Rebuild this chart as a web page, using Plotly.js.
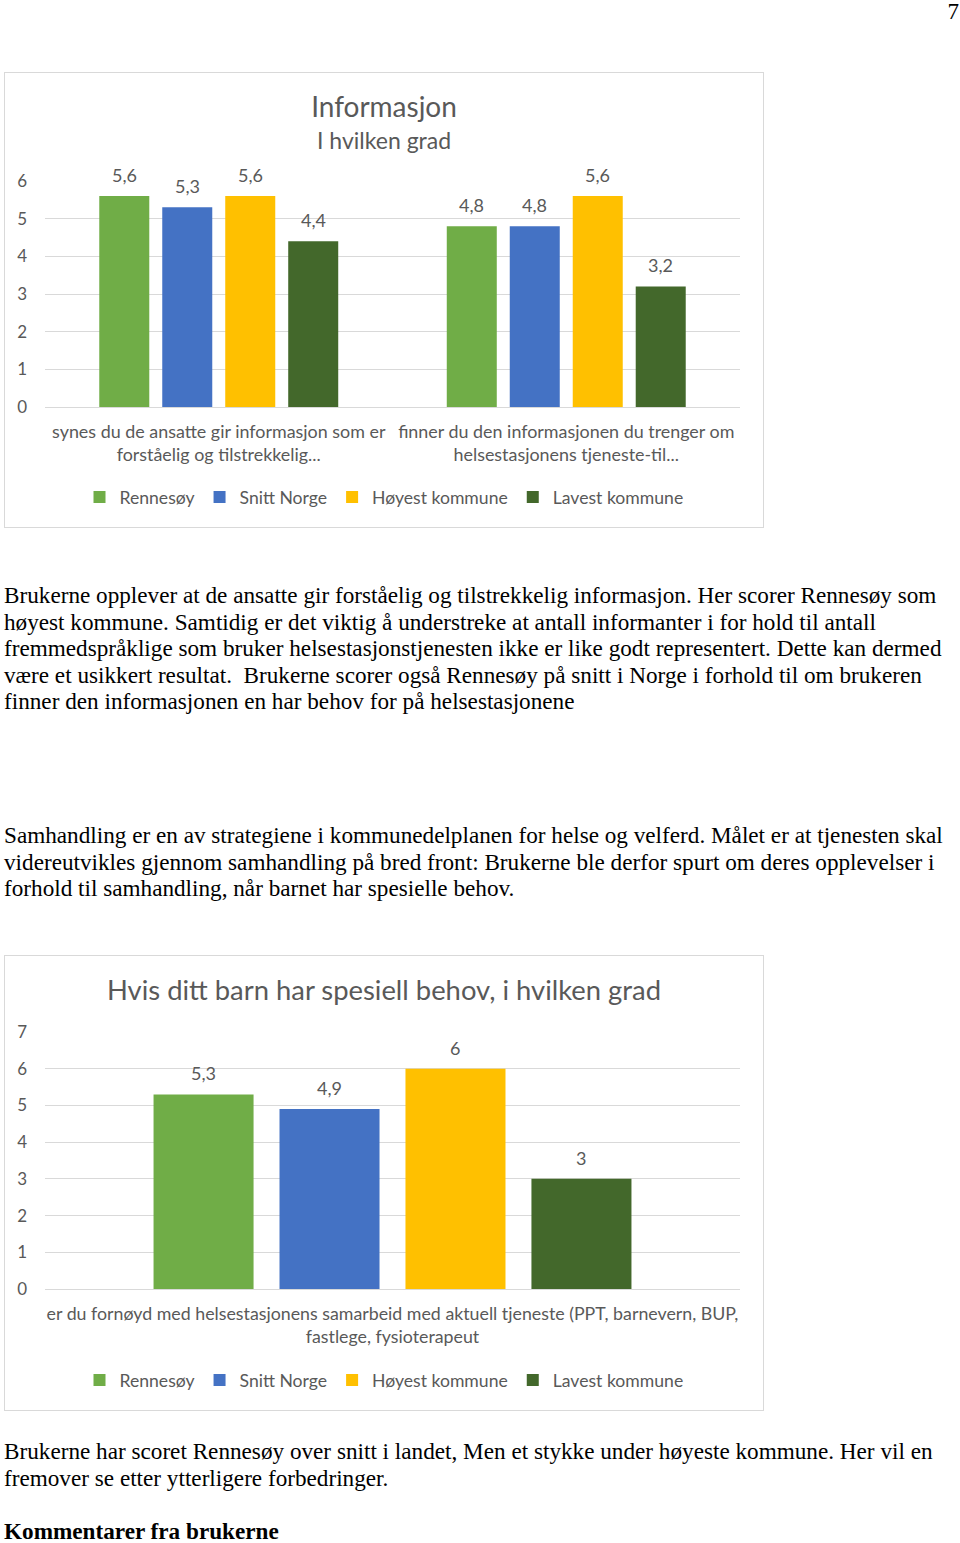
<!DOCTYPE html>
<html>
<head>
<meta charset="utf-8">
<script src="https://cdn.plot.ly/plotly-3.0.1.min.js"></script>
<style>
  html, body { margin:0; padding:0; background:#fff; }
  body { width:960px; height:1543px; position:relative; overflow:hidden; font-family:"Liberation Serif","Times New Roman",serif; color:#000; }
  .chart { position:absolute; left:4px; width:758px; height:454px; border:1px solid #d9d9d9; }
  .txt { position:absolute; left:4px; font-size:23.2px; line-height:26.6px; white-space:nowrap; }
  .pg { position:absolute; right:1px; top:-1px; font-size:23px; }
</style>
</head>
<body>
<div class="pg">7</div>
<div id="c1" class="chart" style="top:72px;"></div>
<div class="txt" style="top:582px;">
Brukerne opplever at de ansatte gir forståelig og tilstrekkelig informasjon. Her scorer Rennesøy som<br>
høyest kommune. Samtidig er det viktig å understreke at antall informanter i for hold til antall<br>
fremmedspråklige som bruker helsestasjonstjenesten ikke er like godt representert. Dette kan dermed<br>
være et usikkert resultat.&nbsp; Brukerne scorer også Rennesøy på snitt i Norge i forhold til om brukeren<br>
finner den informasjonen en har behov for på helsestasjonene
</div>
<div class="txt" style="top:822px;">
Samhandling er en av strategiene i kommunedelplanen for helse og velferd. Målet er at tjenesten skal<br>
videreutvikles gjennom samhandling på bred front: Brukerne ble derfor spurt om deres opplevelser i<br>
forhold til samhandling, når barnet har spesielle behov.
</div>
<div id="c2" class="chart" style="top:955px;"></div>
<div class="txt" style="top:1438px;">
Brukerne har scoret Rennesøy over snitt i landet, Men et stykke under høyeste kommune. Her vil en<br>
fremover se etter ytterligere forbedringer.
</div>
<div class="txt" style="top:1518px; font-weight:bold;">Kommentarer fra brukerne</div>

<script>
// ---- data ----
const seriesNames = ['Rennesøy', 'Snitt Norge', 'Høyest kommune', 'Lavest kommune'];
const seriesColors = ['#70AD47', '#4472C4', '#FFC000', '#43682B'];

const cats1 = [
  'synes du de ansatte gir informasjon som er<br>forståelig og tilstrekkelig...',
  'finner du den informasjonen du trenger om<br>helsestasjonens tjeneste-til...'
];
const rennesoy1 = [5.6, 4.8];
const snittNorge1 = [5.3, 4.8];
const hoyest1 = [5.6, 5.6];
const lavest1 = [4.4, 3.2];
const yTicks1 = [0, 1, 2, 3, 4, 5, 6];

const cats2 = ['er du fornøyd med helsestasjonens samarbeid med aktuell tjeneste (PPT, barnevern, BUP,<br>fastlege, fysioterapeut'];
const rennesoy2 = [5.3];
const snittNorge2 = [4.9];
const hoyest2 = [6];
const lavest2 = [3];
const yTicks2 = [0, 1, 2, 3, 4, 5, 6, 7];

// ---- drawing ----
const FONT = 'Lato, "Open Sans", sans-serif';
const GREY = '#595959';
const W = 758, H = 454, ML = 40, MR = 23;
const BARGAP = 0.275, GROUPGAP = 0.206;
const fmt = v => String(v).replace('.', ',');

function makeTraces(cats, seriesVals) {
  return seriesVals.map((vals, i) => ({
    type: 'bar',
    name: seriesNames[i],
    x: cats,
    y: vals,
    marker: { color: seriesColors[i] },
    hoverinfo: 'skip'
  }));
}

// value labels placed above each bar via the axes (x = category, y = value)
function valueLabels(cats, seriesVals) {
  const plotW = W - ML - MR;
  const slot = plotW / cats.length * (1 - BARGAP) / seriesVals.length;
  const anns = [];
  seriesVals.forEach((vals, i) => {
    vals.forEach((v, j) => {
      anns.push({
        x: cats[j], y: v, xref: 'x', yref: 'y',
        text: fmt(v), showarrow: false,
        xshift: (i - (seriesVals.length - 1) / 2) * slot,
        yanchor: 'middle', yshift: 21,
        font: { family: FONT, size: 18, color: GREY }
      });
    });
  });
  return anns;
}

function makeLayout(titleText, titleSize, tickSize, yMax, yTicks, topMargin, bottomMargin, anns) {
  return {
    width: W, height: H,
    margin: { l: ML, r: MR, t: topMargin, b: bottomMargin },
    paper_bgcolor: '#fff', plot_bgcolor: '#fff',
    font: { family: FONT, color: GREY, size: 18 },
    separators: ', ',
    barmode: 'group',
    bargap: BARGAP,
    bargroupgap: GROUPGAP,
    title: {
      text: titleText,
      font: { family: FONT, size: titleSize, color: GREY },
      x: 0.5, xref: 'container', xanchor: 'center',
      y: 1 - 34 / H, yref: 'container', yanchor: 'middle'
    },
    xaxis: {
      showgrid: false, showline: false, zeroline: false, ticks: '',
      tickfont: { family: FONT, size: tickSize, color: GREY },
      ticklabelstandoff: 12
    },
    yaxis: {
      range: [0, yMax],
      tickvals: yTicks,
      showgrid: true, gridcolor: '#d9d9d9', gridwidth: 1,
      zeroline: true, zerolinecolor: '#d9d9d9', zerolinewidth: 1,
      showline: false, ticks: '',
      tickfont: { family: FONT, size: 17, color: GREY },
      ticklabelstandoff: 17
    },
    annotations: anns,
    showlegend: true,
    legend: {
      orientation: 'h',
      x: 0.5, xref: 'container', xanchor: 'center',
      y: (H - 424) / H, yref: 'container', yanchor: 'middle',
      font: { family: FONT, size: 17.6, color: GREY },
      itemwidth: 30,
      traceorder: 'normal'
    }
  };
}

const s1 = [rennesoy1, snittNorge1, hoyest1, lavest1];
const t1 = 108, b1 = 120;
const ann1 = valueLabels(cats1, s1);
// subtitle line under the main title
ann1.push({
  text: 'I hvilken grad', showarrow: false,
  xref: 'paper', yref: 'paper',
  x: (W / 2 - ML) / (W - ML - MR), y: 1 + (t1 - 67) / (H - t1 - b1),
  xanchor: 'center', yanchor: 'middle',
  font: { family: FONT, size: 23, color: GREY }
});
Plotly.newPlot('c1',
  makeTraces(cats1, s1),
  makeLayout('Informasjon', 28, 17.9, 6, yTicks1, t1, b1, ann1),
  { staticPlot: true });

const s2 = [rennesoy2, snittNorge2, hoyest2, lavest2];
Plotly.newPlot('c2',
  makeTraces(cats2, s2),
  makeLayout('Hvis ditt barn har spesiell behov, i hvilken grad', 27.4, 17.8, 7, yTicks2, 76, 121, valueLabels(cats2, s2)),
  { staticPlot: true });
</script>
</body>
</html>
